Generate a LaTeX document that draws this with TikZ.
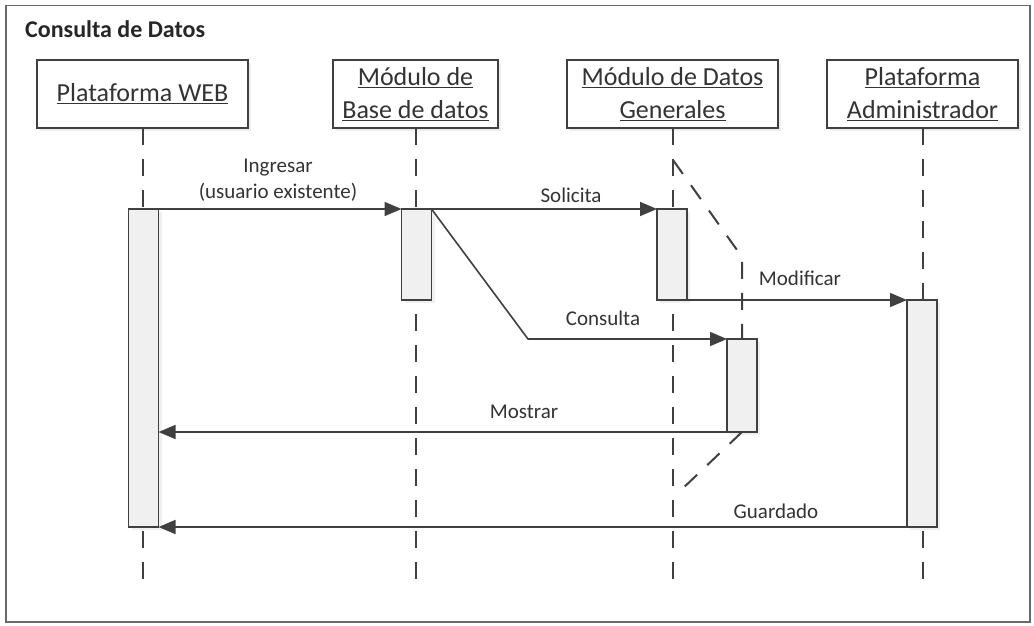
\documentclass[tikz,border=0pt]{standalone}
\usepackage{fontspec}
\setmainfont{Carlito}
\usetikzlibrary{arrows.meta,shadows}
\definecolor{ink}{HTML}{404040}
\definecolor{txt}{HTML}{333333}
\definecolor{barfill}{HTML}{F0F0F0}
\definecolor{framec}{HTML}{6A6A6A}
\begin{document}
\begin{tikzpicture}[x=1pt,y=-1pt,
  head/.style={draw=ink, line width=1.6pt, fill=white, inner sep=0pt, outer sep=0pt,
    minimum height=68pt, align=center, text=txt,
    font=\fontsize{26}{33}\selectfont,
    drop shadow={shadow xshift=3pt, shadow yshift=-3pt, fill=black, opacity=0.07}},
  actbar/.style={draw=ink, line width=1.6pt, fill=barfill, inner sep=0pt, outer sep=0pt,
    minimum width=30pt,
    drop shadow={shadow xshift=3pt, shadow yshift=-3pt, fill=black, opacity=0.06}},
  lifeline/.style={draw=ink, line width=2pt, dash pattern=on 17pt off 14pt},
  msg/.style={draw=ink, line width=1.6pt, -{Triangle[length=17pt,width=14pt]}},
  lbl/.style={font=\fontsize{21}{26}\selectfont, text=txt, align=center, inner sep=0pt},
]
\useasboundingbox (0,0) rectangle (1034,625);
\fill[white] (0,0) rectangle (1034,625);
% outer frame and title
\draw[framec, line width=1.6pt] (6,5.5) rectangle (1030,622);
\node[anchor=west, inner sep=0pt, text=black!85, font=\fontsize{24}{28}\selectfont\bfseries]
  (title) at (25,29) {Consulta de Datos};

% participants
\node[head, minimum width=211pt] (hweb) at (142.5,94) {\underline{Plataforma WEB}};
\node[head, minimum width=165pt] (hbd)  at (415.5,94) {\underline{Módulo de}\\\underline{Base de datos}};
\node[head, minimum width=211pt] (hdg)  at (672.5,94) {\underline{Módulo de Datos}\\\underline{Generales}};
\node[head, minimum width=191pt] (hadm) at (922.5,94) {\underline{Plataforma}\\\underline{Administrador}};

% lifeline ends
\coordinate (webend) at (142.5,590);
\coordinate (bdend)  at (415.5,590);
\coordinate (dgend)  at (672.5,590);
\coordinate (admend) at (922.5,590);
\draw[lifeline] (hweb.south) -- (webend);
\draw[lifeline] (hbd.south)  -- (bdend);
\draw[lifeline] (hdg.south)  -- (dgend);
\draw[lifeline] (hadm.south) -- (admend);

% branch lifeline of the query activation
\coordinate (cstart) at (673,160);
\coordinate (cbend)  at (742,257);
\coordinate (cend)   at (680,491);

% activation bars
\node[actbar, minimum height=318pt] (webbar) at (143.5,368) {};
\node[actbar, minimum height=91pt]  (bdbar)  at (416.5,254.5) {};
\node[actbar, minimum height=91pt]  (dgbar)  at (672,254.5) {};
\node[actbar, minimum height=227pt] (admbar) at (922,413.5) {};
\node[actbar, minimum height=93pt]  (consbar) at (742,385.5) {};

\draw[lifeline] (cstart) -- (cbend) -- (consbar.north);
\draw[lifeline] (consbar.south) -- (cend);

% messages
\coordinate (qbend) at (528,339);
\draw[msg] (webbar.north east) -- (bdbar.north west);
\draw[msg] (bdbar.north east) -- (dgbar.north west);
\draw[msg] (bdbar.north east) -- (qbend) -- (consbar.north west);
\draw[msg] (dgbar.south east) -- (admbar.north west);
\draw[msg] (consbar.south west) -- (consbar.south west -| webbar.east);
\draw[msg] (admbar.south west) -- (webbar.south east);

% message labels
\node[lbl] (lingresar) at (278,180) {Ingresar\\(usuario existente)};
\node[lbl] (lsolicita) at (571,195) {Solicita};
\node[lbl] (lconsulta) at (603,318) {Consulta};
\node[lbl] (lmodificar) at (800,278) {Modificar};
\node[lbl] (lmostrar) at (524,412) {Mostrar};
\node[lbl] (lguardado) at (776,511) {Guardado};
\end{tikzpicture}
\end{document}
